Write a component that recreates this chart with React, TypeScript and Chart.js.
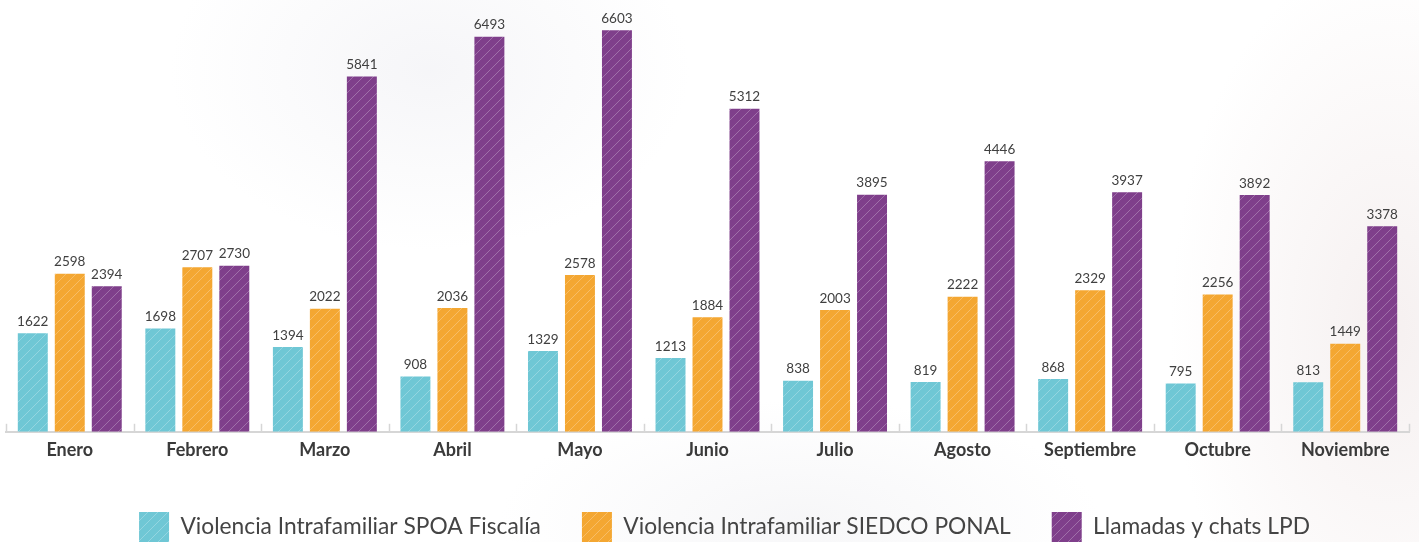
import React, { useEffect, useRef } from 'react';
import { Chart, registerables } from 'chart.js';

Chart.register(...registerables);

const months = ['Enero', 'Febrero', 'Marzo', 'Abril', 'Mayo', 'Junio', 'Julio', 'Agosto', 'Septiembre', 'Octubre', 'Noviembre'];
const spoaFiscalia = [1622, 1698, 1394, 908, 1329, 1213, 838, 819, 868, 795, 813];
const siedcoPonal = [2598, 2707, 2022, 2036, 2578, 1884, 2003, 2222, 2329, 2256, 1449];
const llamadasLPD = [2394, 2730, 5841, 6493, 6603, 5312, 3895, 4446, 3937, 3892, 3378];
const seriesLabels = ['Violencia Intrafamiliar SPOA Fiscalía', 'Violencia Intrafamiliar SIEDCO PONAL', 'Llamadas y chats LPD'];
const seriesColors = ['#6fc7d5', '#f4a732', '#7f3f8b'];

function hatch(color: string): CanvasPattern | string {
  const c = document.createElement('canvas');
  c.width = 10;
  c.height = 10;
  const g = c.getContext('2d');
  if (!g) return color;
  g.fillStyle = color;
  g.fillRect(0, 0, 10, 10);
  g.strokeStyle = 'rgba(255,255,255,0.26)';
  g.lineWidth = 1;
  g.beginPath();
  g.moveTo(0, 10); g.lineTo(10, 0);
  g.moveTo(-1, 1); g.lineTo(1, -1);
  g.moveTo(9, 11); g.lineTo(11, 9);
  g.stroke();
  const p = g.createPattern(c, 'repeat');
  return p || color;
}

const valueLabels = {
  id: 'valueLabels',
  afterDatasetsDraw(chart: any) {
    const ctx = chart.ctx;
    ctx.save();
    ctx.font = '13.5px Lato';
    ctx.fillStyle = '#404040';
    ctx.textAlign = 'center';
    ctx.textBaseline = 'bottom';
    chart.data.datasets.forEach((ds: any, i: number) => {
      const meta = chart.getDatasetMeta(i);
      meta.data.forEach((el: any, j: number) => {
        ctx.fillText(String(ds.data[j]), el.x, el.y - 5);
      });
    });
    ctx.restore();
  },
};

const categoryTicks = {
  id: 'categoryTicks',
  afterDraw(chart: any) {
    const ctx = chart.ctx;
    const xs = chart.scales.x;
    const bottom = chart.chartArea.bottom;
    ctx.save();
    ctx.strokeStyle = '#d6d6d6';
    ctx.lineWidth = 1.5;
    for (let i = 0; i <= months.length; i++) {
      const px = Math.round(xs.getPixelForValue(i - 0.5)) + 0.5;
      ctx.beginPath();
      ctx.moveTo(px, bottom);
      ctx.lineTo(px, bottom - 8);
      ctx.stroke();
    }
    ctx.restore();
  },
};

const legendShift = {
  id: 'legendShift',
  afterLayout(chart: any) {
    if (chart.legend) {
      chart.legend.left += 17;
      chart.legend.right += 17;
    }
  },
};

export default function App() {
  const ref = useRef<HTMLCanvasElement>(null);

  useEffect(() => {
    if (!ref.current) return;
    const seriesData = [spoaFiscalia, siedcoPonal, llamadasLPD];
    const chart = new Chart(ref.current, {
      type: 'bar',
      data: {
        labels: months,
        datasets: seriesData.map((d, i) => ({
          label: seriesLabels[i],
          data: d,
          backgroundColor: hatch(seriesColors[i]) as any,
          borderWidth: 0,
          categoryPercentage: 0.87,
          barPercentage: 0.81,
        })),
      },
      options: {
        animation: false,
        responsive: true,
        maintainAspectRatio: false,
        layout: { padding: { top: 6, left: 6, right: 10, bottom: 0 } },
        plugins: {
          tooltip: { enabled: false },
          legend: {
            position: 'bottom',
            labels: {
              boxWidth: 30,
              boxHeight: 30,
              padding: 41,
              color: '#444444',
              font: { family: 'Lato', size: 22.75 },
            },
          },
        },
        scales: {
          x: {
            grid: { display: false, drawTicks: false },
            border: { display: true, color: '#d6d6d6', width: 2 },
            ticks: {
              padding: 8,
              color: '#3a3a3a',
              font: { family: 'Lato', size: 18, weight: 'bold' },
            },
            afterFit(scale: any) {
              scale.height += 1.6;
            },
          },
          y: {
            display: false,
            min: 0,
            max: 7000,
          },
        },
      },
      plugins: [valueLabels, categoryTicks, legendShift],
    });
    return () => chart.destroy();
  }, []);

  return (
    <div
      style={{
        position: 'fixed',
        left: 0,
        top: 0,
        width: 1419,
        height: 542,
        overflow: 'hidden',
        background:
          'radial-gradient(ellipse 260px 180px at 430px 70px, rgba(232,232,238,0.4), rgba(255,255,255,0)), radial-gradient(ellipse 220px 380px at 1390px 330px, rgba(234,222,222,0.45), rgba(255,255,255,0)), radial-gradient(ellipse 300px 120px at 800px 520px, rgba(234,234,238,0.4), rgba(255,255,255,0)), #ffffff',
      }}
    >
      <div style={{ position: 'relative', width: 1419, height: 552 }}>
        <canvas ref={ref} />
      </div>
    </div>
  );
}
